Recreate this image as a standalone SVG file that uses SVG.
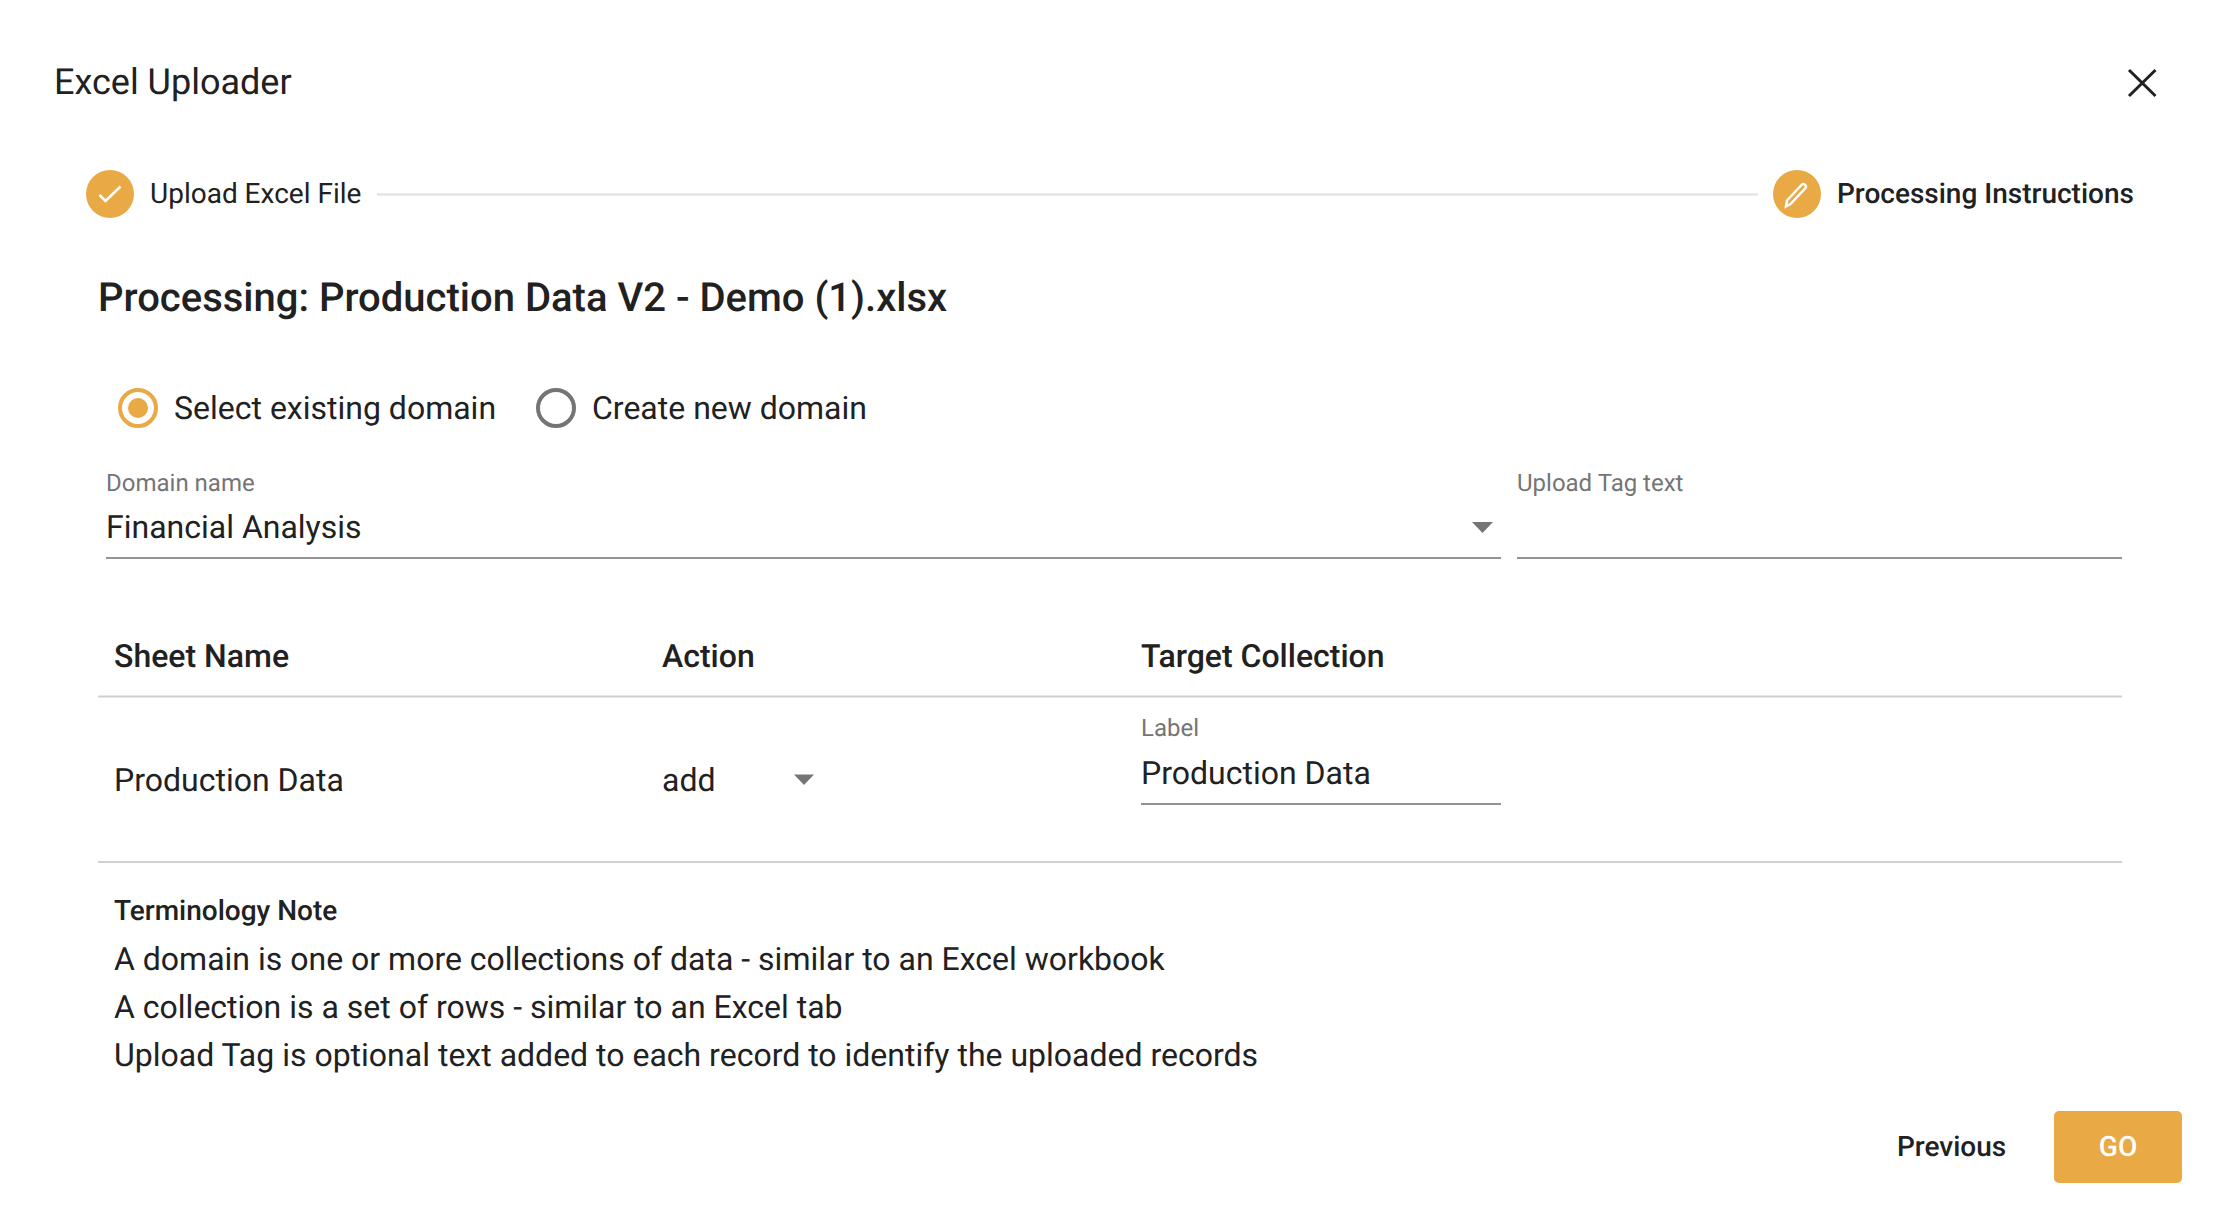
<svg xmlns="http://www.w3.org/2000/svg" width="2226" height="1226" viewBox="0 0 2226 1226">
<style>
text{font-family:Roboto,"Liberation Sans",sans-serif;fill:#212121;text-rendering:geometricPrecision}
.t{font-size:36px}
.b{font-size:32px}
.s{font-size:28px}
.m{font-weight:500}
.l{font-size:24px;fill:#757575}
.rule{stroke:#d0d0d0;stroke-width:2}
.ul{stroke:#949494;stroke-width:2}
.a{fill:#757575}
.o{fill:#e9a945}
</style>
<rect width="2226" height="1226" fill="#fff"/>
<g id="title"><text class="t" x="54" y="94">Excel Uploader</text></g>
<g id="close"><path d="M2129 70L2155.500 96M2155.500 70L2129 96" stroke="#212121" stroke-width="3" fill="none"/></g>
<g id="connectors"><line x1="377" y1="194.500" x2="1758" y2="194.500" stroke="#e0e0e0" stroke-width="2"/></g>
<g id="step-1"><circle class="o" cx="110" cy="194" r="24"/><path d="M99.500 195L105.500 201L120.500 186.500" stroke="#fff" stroke-width="2.500" fill="none"/><text class="s" x="150" y="203">Upload Excel File</text></g>
<g id="step-2"><circle class="o" cx="1797" cy="194" r="24"/><path d="M1786 206.500L1787 200.500L1802 184.500C1804 183 1807 186 1805.500 188L1790.500 204Z" stroke="#fff" stroke-width="2.500" fill="none"/><text class="s m" x="1837" y="203">Processing Instructions</text></g>
<g id="heading"><text class="m" x="98" y="311" font-size="40">Processing: Production Data V2 - Demo (1).xlsx</text></g>
<g id="radio-existing"><circle cx="138" cy="408" r="18" fill="none" stroke="#e9a945" stroke-width="4"/><circle class="o" cx="138" cy="408" r="10"/><text class="b" x="174" y="419">Select existing domain</text></g>
<g id="radio-new"><circle cx="556" cy="408" r="18" fill="none" stroke="#757575" stroke-width="4"/><text class="b" x="592" y="419">Create new domain</text></g>
<g id="domain-field"><text class="l" x="106" y="490.500">Domain name</text><text class="b" x="106" y="538">Financial Analysis</text><path class="a" d="M1472 522H1493L1482.500 533Z"/><line class="ul" x1="106" y1="558" x2="1501" y2="558"/></g>
<g id="tag-field"><text class="l" x="1517" y="490.500">Upload Tag text</text><line class="ul" x1="1517" y1="558" x2="2122" y2="558"/></g>
<g id="table-header"><text class="b m" x="114" y="667">Sheet Name</text><text class="b m" x="662" y="667">Action</text><text class="b m" x="1141" y="667">Target Collection</text><line class="rule" x1="98" y1="696.500" x2="2122" y2="696.500"/></g>
<g id="table-row"><text class="b" x="114" y="790.500">Production Data</text><text class="b" x="662" y="790.500">add</text><path class="a" d="M794 774.500H814L804 785Z"/><text class="l" x="1141" y="736">Label</text><text class="b" x="1141" y="784">Production Data</text><line class="ul" x1="1141" y1="804" x2="1501" y2="804"/><line class="rule" x1="98" y1="862" x2="2122" y2="862"/></g>
<g id="note"><text class="s m" x="114" y="920">Terminology Note</text><text class="b" x="114" y="970">A domain is one or more collections of data - similar to an Excel workbook</text><text class="b" x="114" y="1018">A collection is a set of rows - similar to an Excel tab</text><text class="b" x="114" y="1066">Upload Tag is optional text added to each record to identify the uploaded records</text></g>
<g id="previous"><text class="s m" x="1897" y="1156">Previous</text></g>
<g id="go"><rect class="o" x="2054" y="1111" width="128" height="72" rx="5"/><text class="s m" x="2118" y="1156" text-anchor="middle" style="fill:#fff">GO</text></g>
</svg>
